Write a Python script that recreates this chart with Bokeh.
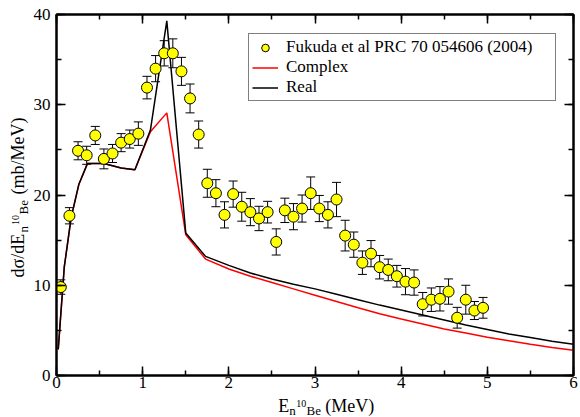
from bokeh.plotting import figure
from bokeh.models import (ColumnDataSource, Whisker, TeeHead, Legend, LegendItem,
                          LinearAxis, SingleIntervalTicker, Range1d, Label)
from bokeh.layouts import row, column
from bokeh.embed import file_html
from bokeh.resources import INLINE
import math

# ---------------- data ----------------
energy = [0.05, 0.15, 0.25, 0.35, 0.45, 0.55, 0.65, 0.75, 0.85, 0.95,
          1.05, 1.15, 1.25, 1.35, 1.45, 1.55, 1.65, 1.75, 1.85, 1.95,
          2.05, 2.15, 2.25, 2.35, 2.45, 2.55, 2.65, 2.75, 2.85, 2.95,
          3.05, 3.15, 3.25, 3.35, 3.45, 3.55, 3.65, 3.75, 3.85, 3.95,
          4.05, 4.15, 4.25, 4.35, 4.45, 4.55, 4.65, 4.75, 4.85, 4.95]
sigma = [9.8, 17.7, 24.9, 24.4, 26.6, 24.0, 24.6, 25.8, 26.2, 26.8,
         31.9, 34.0, 35.7, 35.7, 33.7, 30.7, 26.7, 21.3, 20.2, 17.8,
         20.1, 18.7, 18.1, 17.4, 18.1, 14.8, 18.3, 17.6, 18.5, 20.2,
         18.5, 17.8, 19.5, 15.5, 14.5, 12.5, 13.5, 12.0, 11.7, 11.0,
         10.4, 10.3, 7.9, 8.4, 8.5, 9.3, 6.4, 8.4, 7.2, 7.5]
sigma_err = [0.8, 0.9, 1.0, 1.0, 1.0, 1.1, 1.0, 1.0, 1.0, 1.3,
             1.25, 1.45, 1.4, 1.6, 1.55, 1.6, 1.5, 1.55, 1.5, 1.45,
             1.45, 1.6, 1.5, 1.35, 1.2, 1.45, 1.35, 1.45, 1.5, 1.8,
             1.45, 1.45, 1.9, 1.7, 1.4, 1.3, 1.45, 1.3, 1.2, 1.2,
             1.45, 1.4, 1.3, 1.3, 1.35, 1.4, 1.15, 1.6, 1.0, 1.15]

theory_e = [0.02, 0.09, 0.17, 0.26, 0.36, 0.55, 0.75, 0.91, 1.09, 1.28,
            1.50, 1.73, 2.0, 2.25, 2.5, 2.75, 3.0, 3.25, 3.5, 3.75,
            4.0, 4.25, 4.5, 4.75, 5.0, 5.25, 5.5, 5.75, 6.0]
real_xs = [2.9, 12.0, 17.5, 21.2, 23.5, 23.5, 23.0, 22.8, 27.2, 39.3,
           15.8, 13.2, 12.2, 11.35, 10.7, 10.1, 9.6, 9.0, 8.4, 7.8,
           7.25, 6.7, 6.15, 5.6, 5.1, 4.6, 4.2, 3.8, 3.45]
complex_xs = [2.9, 12.0, 17.5, 21.2, 23.5, 23.5, 23.0, 22.8, 27.0, 29.1,
              15.6, 12.9, 11.8, 11.0, 10.3, 9.6, 8.9, 8.2, 7.5, 6.85,
              6.25, 5.7, 5.15, 4.7, 4.25, 3.85, 3.45, 3.1, 2.8]

legend_labels = ["Fukuda et al PRC 70 054606 (2004)", "Complex", "Real"]

# ---------------- layout ----------------
FONT = "Liberation Serif"
TOTAL_W, TOTAL_H = 580, 417
YT_W = 30                      # strip holding the y-axis title
XT_H = 22                      # strip holding the x-axis title
MAIN_W, MAIN_H = TOTAL_W - YT_W, TOTAL_H - XT_H
LEFT, RIGHT, TOP, BOTTOM = 26, 7, 14, 20
X0, X1, Y0, Y1 = 0, 6, 0, 40

p = figure(width=MAIN_W, height=MAIN_H, x_range=Range1d(X0, X1), y_range=Range1d(Y0, Y1),
           output_backend="svg", toolbar_location=None, title=None,
           x_axis_type=None, y_axis_type=None,
           min_border_left=LEFT, min_border_right=RIGHT,
           min_border_top=TOP, min_border_bottom=BOTTOM)
p.grid.visible = False
p.outline_line_color = "black"
p.outline_line_width = 2
p.background_fill_color = "white"
p.border_fill_color = "white"


def make_axis(interval, labels):
    ax = LinearAxis(ticker=SingleIntervalTicker(interval=interval, num_minor_ticks=2),
                    axis_line_color="black", axis_line_width=2,
                    major_tick_in=9, major_tick_out=0,
                    minor_tick_in=5, minor_tick_out=0,
                    major_tick_line_color="black", minor_tick_line_color="black",
                    major_tick_line_width=1.5, minor_tick_line_width=1.5)
    if labels:
        ax.major_label_text_font = FONT
        ax.major_label_text_font_size = "17px"
        ax.major_label_text_color = "black"
    else:
        ax.major_label_text_font_size = "1px"
        ax.major_label_text_alpha = 0
        ax.major_label_text_color = None
        ax.major_label_standoff = 0
    return ax


xb = make_axis(1, True)
xb.major_label_standoff = 1
yl = make_axis(10, True)
yl.major_label_standoff = 6
p.add_layout(xb, "below")
p.add_layout(yl, "left")
p.add_layout(make_axis(1, False), "above")
p.add_layout(make_axis(10, False), "right")

# ---------------- theory curves ----------------
r_cplx = p.line(theory_e, complex_xs, line_color="red", line_width=1.5)
r_real = p.line(theory_e, real_xs, line_color="black", line_width=1.5)

# ---------------- experiment ----------------
src = ColumnDataSource(dict(
    x=energy, y=sigma,
    lower=[s - e for s, e in zip(sigma, sigma_err)],
    upper=[s + e for s, e in zip(sigma, sigma_err)],
))
wh = Whisker(source=src, base="x", lower="lower", upper="upper",
             line_color="black", line_width=1,
             upper_head=TeeHead(size=9, line_color="black", line_width=1),
             lower_head=TeeHead(size=9, line_color="black", line_width=1))
p.add_layout(wh)
r_exp = p.scatter("x", "y", source=src, marker="circle", size=11,
                  fill_color="#FFFF00", line_color="black", line_width=1)

# ---------------- legend ----------------
legend = Legend(items=[LegendItem(label=legend_labels[0], renderers=[r_exp]),
                       LegendItem(label=legend_labels[1], renderers=[r_cplx]),
                       LegendItem(label=legend_labels[2], renderers=[r_real])],
                location=(192, 274), margin=0, padding=3, spacing=0,
                glyph_width=26, glyph_height=19, label_height=19, label_width=266,
                label_standoff=8,
                label_text_font=FONT, label_text_font_size="17px",
                label_text_color="black",
                border_line_color="black", border_line_width=1,
                background_fill_color="white", background_fill_alpha=1.0)
p.add_layout(legend)


# ---------------- axis titles (sub/superscripts), in their own strips ----------------
def strip(w, h, xr, yr):
    f = figure(width=w, height=h, x_range=xr, y_range=yr,
               output_backend="svg", toolbar_location=None, title=None,
               x_axis_type=None, y_axis_type=None,
               min_border=0, min_border_left=0, min_border_right=0,
               min_border_top=0, min_border_bottom=0)
    f.grid.visible = False
    f.outline_line_color = None
    f.background_fill_color = "white"
    f.border_fill_color = "white"
    return f


# y-title strip: page pixels x 0..30, y 0..417 (y grows downward)
# anchors are text centre lines (text_baseline="middle")
yt = strip(YT_W, TOTAL_H, Range1d(0, YT_W), Range1d(TOTAL_H, 0))
y_title = [("dσ/dE", 17, 277, 18), ("n", 22.5, 232, 13), ("10", 14.5, 224.5, 10),
           ("Be", 22.5, 214, 13), ("(mb/MeV)", 17, 194, 18)]
for txt, px, py, fs in y_title:
    yt.add_layout(Label(x=px, y=py, text=txt, text_font=FONT,
                        text_font_size=f"{fs}px", text_color="black",
                        angle=math.pi / 2, text_align="left",
                        text_baseline="middle"))

# x-title strip: page pixels x 30..580, y 395..417 (y grows downward)
xt = strip(MAIN_W, XT_H, Range1d(YT_W, TOTAL_W), Range1d(TOTAL_H, MAIN_H))
x_title = [("E", 266, 405, 18), ("n", 277.5, 409.5, 13), ("10", 285, 403, 10),
           ("Be", 296, 410, 13), ("(MeV)", 316, 405, 18)]
for txt, px, py, fs in x_title:
    xt.add_layout(Label(x=px, y=py, text=txt, text_font=FONT,
                        text_font_size=f"{fs}px", text_color="black",
                        text_align="left", text_baseline="middle"))

layout = row(yt, column(p, xt, spacing=0), spacing=0)

open("out.html", "w").write(file_html(layout, INLINE))
